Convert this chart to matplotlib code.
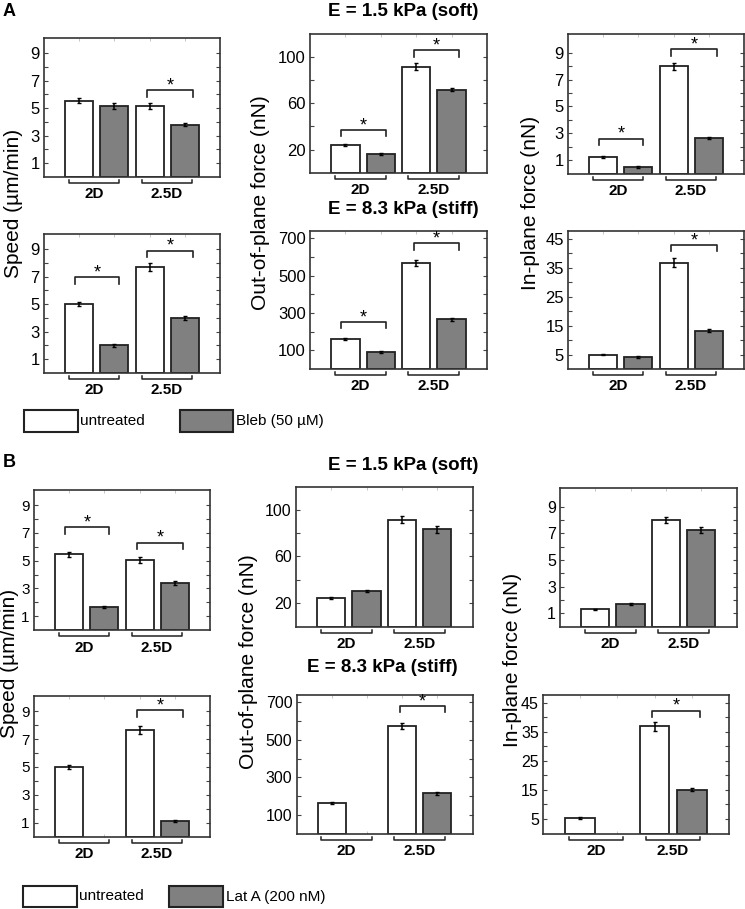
import numpy as np
import matplotlib
matplotlib.use('Agg')
import matplotlib.pyplot as plt
from matplotlib.patches import Rectangle
from matplotlib.transforms import blended_transform_factory

plt.rcParams['font.family'] = ['Liberation Sans', 'DejaVu Sans']

W, H = 745, 909

groups = ['2D', '2.5D']

# ---- panel A : untreated vs Bleb (50 uM) ----
a_speed_soft_ctrl = [5.55, 5.15]
a_speed_soft_ctrl_err = [0.2, 0.2]
a_speed_soft_drug = [5.15, 3.8]
a_speed_soft_drug_err = [0.2, 0.12]
a_speed_soft_sig = [None, 6.3]

a_speed_stiff_ctrl = [5.0, 7.7]
a_speed_stiff_ctrl_err = [0.15, 0.3]
a_speed_stiff_drug = [2.0, 4.0]
a_speed_stiff_drug_err = [0.1, 0.15]
a_speed_stiff_sig = [6.95, 8.9]

a_oop_soft_ctrl = [24, 91.5]
a_oop_soft_ctrl_err = [1, 3]
a_oop_soft_drug = [16.5, 71.5]
a_oop_soft_drug_err = [0.8, 1.2]
a_oop_soft_sig = [37, 105.5]

a_oop_stiff_ctrl = [162, 570]
a_oop_stiff_ctrl_err = [5, 15]
a_oop_stiff_drug = [92, 266]
a_oop_stiff_drug_err = [4, 7]
a_oop_stiff_sig = [251, 673]

a_inp_soft_ctrl = [1.25, 8.0]
a_inp_soft_ctrl_err = [0.07, 0.25]
a_inp_soft_drug = [0.5, 2.65]
a_inp_soft_drug_err = [0.06, 0.07]
a_inp_soft_sig = [2.6, 9.25]

a_inp_stiff_ctrl = [5.0, 36.7]
a_inp_stiff_ctrl_err = [0.3, 1.5]
a_inp_stiff_drug = [4.2, 13.2]
a_inp_stiff_drug_err = [0.4, 0.5]
a_inp_stiff_sig = [None, 42.7]

# ---- panel B : untreated vs Lat A (200 nM) ----
b_speed_soft_ctrl = [5.45, 5.05]
b_speed_soft_ctrl_err = [0.2, 0.2]
b_speed_soft_drug = [1.63, 3.37]
b_speed_soft_drug_err = [0.07, 0.15]
b_speed_soft_sig = [7.4, 6.3]

b_speed_stiff_ctrl = [5.0, 7.65]
b_speed_stiff_ctrl_err = [0.12, 0.3]
b_speed_stiff_drug = [0, 1.14]
b_speed_stiff_drug_err = [0, 0.07]
b_speed_stiff_sig = [None, 9.07]

b_oop_soft_ctrl = [24.2, 91.4]
b_oop_soft_ctrl_err = [1, 3]
b_oop_soft_drug = [30.5, 83.4]
b_oop_soft_drug_err = [1, 3]
b_oop_soft_sig = [None, None]

b_oop_stiff_ctrl = [163, 575]
b_oop_stiff_ctrl_err = [5, 18]
b_oop_stiff_drug = [0, 215]
b_oop_stiff_drug_err = [0, 7]
b_oop_stiff_sig = [None, 682]

b_inp_soft_ctrl = [1.3, 8.0]
b_inp_soft_ctrl_err = [0.05, 0.25]
b_inp_soft_drug = [1.67, 7.25]
b_inp_soft_drug_err = [0.08, 0.25]
b_inp_soft_sig = [None, None]

b_inp_stiff_ctrl = [5.2, 36.8]
b_inp_stiff_ctrl_err = [0.3, 1.5]
b_inp_stiff_drug = [0, 15.1]
b_inp_stiff_drug_err = [0, 0.5]
b_inp_stiff_sig = [None, 42.2]

speed_ticks = ([1, 3, 5, 7, 9], [2, 4, 6, 8], 10.1)
oop_soft_ticks = ([20, 60, 100], [40, 80], 119.5)
oop_stiff_ticks = ([100, 300, 500, 700], [200, 400, 600], 740)
inp_soft_ticks = ([1, 3, 5, 7, 9], [2, 4, 6, 8], 10.4)
inp_stiff_ticks = ([5, 15, 25, 35, 45], [10, 20, 30, 40], 47.6)

EDGE = '#222222'
GRAY = '#808080'

fig = plt.figure(figsize=(W / 100, H / 100), dpi=100)


def px_axes(x0, y0, x1, y1):
    return fig.add_axes([x0 / W, 1 - y1 / H, (x1 - x0) / W, (y1 - y0) / H])


def bar_panel(ax, ctrl, ctrl_err, drug, drug_err, ticks, sig, tsize=12):
    major, minor, top = ticks
    xc = np.array([1, 3])
    xd = np.array([2, 4])
    ax.bar(xc, ctrl, width=0.8, color='white', edgecolor=EDGE, linewidth=1.3, zorder=2)
    dv = np.array(drug, dtype=float)
    keep = dv > 0
    ax.bar(xd[keep], dv[keep], width=0.8, color=GRAY, edgecolor=EDGE, linewidth=1.3, zorder=2)
    ax.errorbar(xc, ctrl, yerr=ctrl_err, fmt='none', ecolor='black', elinewidth=1.1,
                capsize=1.5, capthick=1, zorder=3)
    ax.errorbar(xd[keep], dv[keep], yerr=np.array(drug_err)[keep], fmt='none',
                ecolor='black', elinewidth=1.1, capsize=1.5, capthick=1, zorder=3)
    ax.set_xlim(0, 5)
    ax.set_ylim(0, top)
    ax.set_yticks(major)
    ax.set_yticks(minor, minor=True)
    ax.set_xticks([1, 2, 3, 4])
    ax.set_xticklabels([])
    ax.tick_params(axis='y', which='both', direction='in', right=True, length=3,
                   width=0.8, labelsize=tsize, pad=3, color='#444444')
    ax.tick_params(axis='x', direction='in', top=True, length=2, width=0.6,
                   color='#bbbbbb')
    for s in ax.spines.values():
        s.set_linewidth(1.2)
        s.set_color('#333333')

    trans = blended_transform_factory(ax.transData, ax.transAxes)
    for (x0, x1, xm), lab in zip([(0.7, 2.14, 1.42), (2.77, 4.21, 3.49)], groups):
        ax.plot([x0, x0, x1, x1], [-0.022, -0.045, -0.045, -0.022], transform=trans,
                clip_on=False, color=EDGE, lw=1.1)
        ax.text(xm, -0.125, lab, transform=trans, ha='center', va='center',
                fontsize=11, fontweight='bold')

    drop = 0.045 * top
    for (x0, x1), y in zip([(0.87, 2.14), (2.93, 4.22)], sig):
        if y is None:
            continue
        ax.plot([x0, x0, x1, x1], [y - drop, y, y, y - drop], color=EDGE, lw=1.2,
                clip_on=False)
        ax.annotate('*', ((x0 + x1) / 2, y), xytext=(0, -3), textcoords='offset points',
                    ha='center', va='bottom', fontsize=13)


# panel A
bar_panel(px_axes(44, 38, 220, 177), a_speed_soft_ctrl, a_speed_soft_ctrl_err,
          a_speed_soft_drug, a_speed_soft_drug_err, speed_ticks, a_speed_soft_sig)
bar_panel(px_axes(44, 234, 220, 373), a_speed_stiff_ctrl, a_speed_stiff_ctrl_err,
          a_speed_stiff_drug, a_speed_stiff_drug_err, speed_ticks, a_speed_stiff_sig)
bar_panel(px_axes(310, 34, 487, 173), a_oop_soft_ctrl, a_oop_soft_ctrl_err,
          a_oop_soft_drug, a_oop_soft_drug_err, oop_soft_ticks, a_oop_soft_sig)
bar_panel(px_axes(310, 231, 487, 369), a_oop_stiff_ctrl, a_oop_stiff_ctrl_err,
          a_oop_stiff_drug, a_oop_stiff_drug_err, oop_stiff_ticks, a_oop_stiff_sig)
bar_panel(px_axes(568, 34, 744, 173.5), a_inp_soft_ctrl, a_inp_soft_ctrl_err,
          a_inp_soft_drug, a_inp_soft_drug_err, inp_soft_ticks, a_inp_soft_sig)
bar_panel(px_axes(568, 231, 744, 369), a_inp_stiff_ctrl, a_inp_stiff_ctrl_err,
          a_inp_stiff_drug, a_inp_stiff_drug_err, inp_stiff_ticks, a_inp_stiff_sig)

# panel B (tick labels drawn a little narrower there)
bar_panel(px_axes(34, 490, 210, 630), b_speed_soft_ctrl, b_speed_soft_ctrl_err,
          b_speed_soft_drug, b_speed_soft_drug_err, speed_ticks, b_speed_soft_sig, 11)
bar_panel(px_axes(34, 696, 210, 836.5), b_speed_stiff_ctrl, b_speed_stiff_ctrl_err,
          b_speed_stiff_drug, b_speed_stiff_drug_err, speed_ticks, b_speed_stiff_sig, 11)
bar_panel(px_axes(296, 487, 472.5, 626.5), b_oop_soft_ctrl, b_oop_soft_ctrl_err,
          b_oop_soft_drug, b_oop_soft_drug_err, oop_soft_ticks, b_oop_soft_sig, 11.5)
bar_panel(px_axes(296.5, 695, 472.5, 833.5), b_oop_stiff_ctrl, b_oop_stiff_ctrl_err,
          b_oop_stiff_drug, b_oop_stiff_drug_err, oop_stiff_ticks, b_oop_stiff_sig, 11.5)
bar_panel(px_axes(560, 488, 736.5, 626.5), b_inp_soft_ctrl, b_inp_soft_ctrl_err,
          b_inp_soft_drug, b_inp_soft_drug_err, inp_soft_ticks, b_inp_soft_sig, 11.5)
bar_panel(px_axes(543, 695, 729, 833.5), b_inp_stiff_ctrl, b_inp_stiff_ctrl_err,
          b_inp_stiff_drug, b_inp_stiff_drug_err, inp_stiff_ticks, b_inp_stiff_sig, 11.5)


def ftext(x, y, s, **kw):
    fig.text(x / W, 1 - y / H, s, **kw)


# titles, panel letters, y labels
ftext(3, 11, 'A', fontsize=13, fontweight='bold', ha='left', va='center')
ftext(3, 462, 'B', fontsize=13, fontweight='bold', ha='left', va='center')
ftext(403, 12, 'E = 1.5 kPa (soft)', fontsize=13.5, fontweight='bold', ha='center', va='center')
ftext(403, 210, 'E = 8.3 kPa (stiff)', fontsize=13.5, fontweight='bold', ha='center', va='center')
ftext(403, 466, 'E = 1.5 kPa (soft)', fontsize=13.5, fontweight='bold', ha='center', va='center')
ftext(382, 668, 'E = 8.3 kPa (stiff)', fontsize=13.5, fontweight='bold', ha='center', va='center')

ftext(14, 203, 'Speed (\u00b5m/min)', fontsize=15, rotation=90, ha='center', va='center')
ftext(260, 203, 'Out-of-plane force (nN)', fontsize=15, rotation=90, ha='center', va='center')
ftext(531, 203, 'In-plane force (nN)', fontsize=15, rotation=90, ha='center', va='center')
ftext(10, 663, 'Speed (\u00b5m/min)', fontsize=15, rotation=90, ha='center', va='center')
ftext(249, 662, 'Out-of-plane force (nN)', fontsize=15, rotation=90, ha='center', va='center')
ftext(512, 660, 'In-plane force (nN)', fontsize=15, rotation=90, ha='center', va='center')


# legends
def legend_box(x0, y0, x1, y1, color):
    fig.add_artist(Rectangle((x0 / W, 1 - y1 / H), (x1 - x0) / W, (y1 - y0) / H,
                             transform=fig.transFigure, facecolor=color,
                             edgecolor=EDGE, linewidth=1.5))


legend_box(23.5, 410, 77.5, 432, 'white')
legend_box(180, 410, 233, 432, GRAY)
ftext(80, 421, 'untreated', fontsize=11, ha='left', va='center')
ftext(236, 421, 'Bleb (50 \u00b5M)', fontsize=11, ha='left', va='center')

legend_box(23, 886, 76.5, 907, 'white')
legend_box(168.5, 886, 222.5, 907, GRAY)
ftext(79, 896.5, 'untreated', fontsize=11, ha='left', va='center')
ftext(226, 896.5, 'Lat A (200 nM)', fontsize=11, ha='left', va='center')

fig.savefig('out.png', dpi=100)
